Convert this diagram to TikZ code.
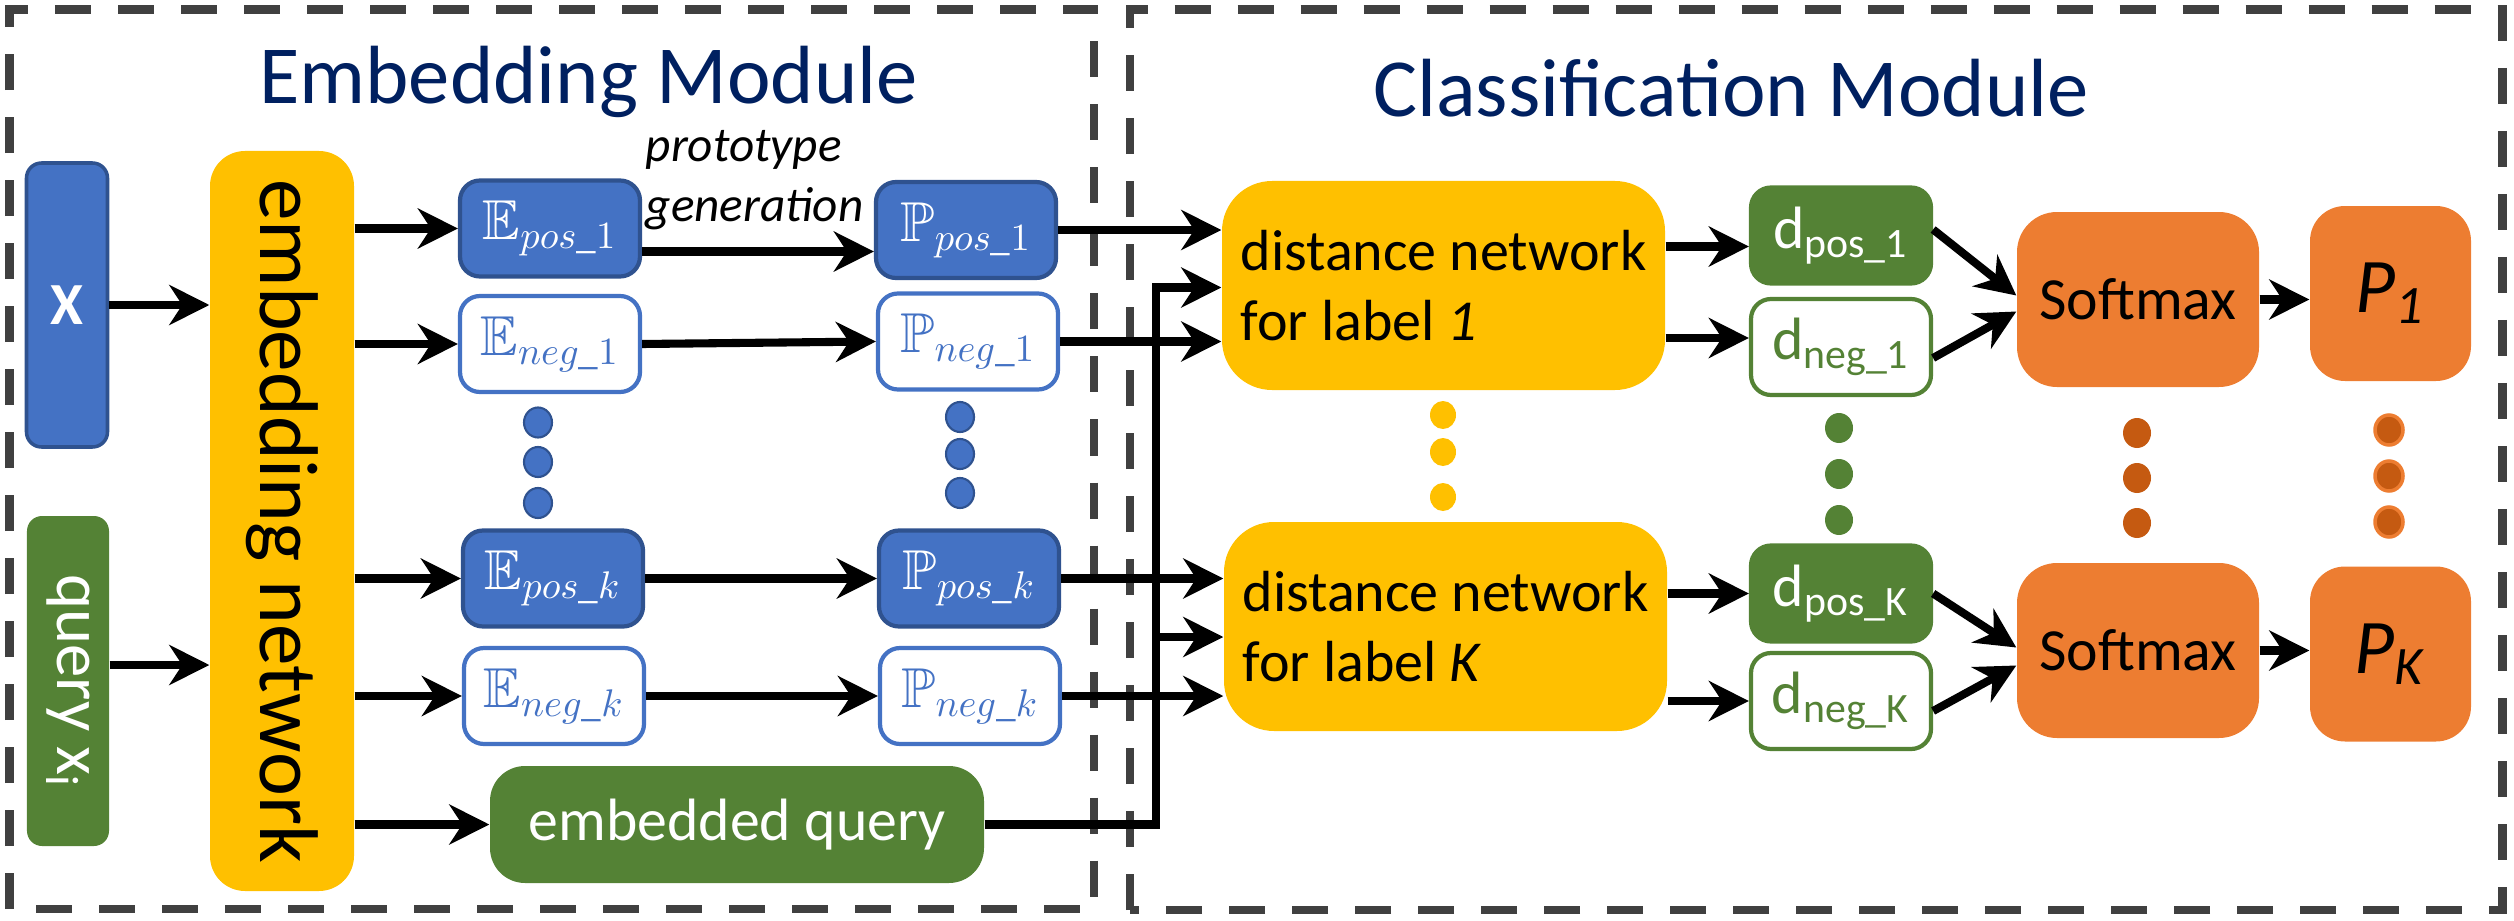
\documentclass[tikz,border=0pt]{standalone}
\usepackage{amsmath, amssymb}
\usepackage[no-math]{fontspec}
\setmainfont{Carlito}
\usepackage{tikz}
\usepackage{xcolor}
\usetikzlibrary{arrows.meta}

\definecolor{blueA}{HTML}{4472C4}
\definecolor{blueB}{HTML}{2F528F}
\definecolor{greenA}{HTML}{548235}
\definecolor{yellowA}{HTML}{FFC000}
\definecolor{orangeA}{HTML}{ED7D31}
\definecolor{orangeB}{HTML}{C55A11}
\definecolor{navy}{HTML}{002060}
\definecolor{framegray}{HTML}{404040}

\begin{document}
\begin{tikzpicture}[
  arr/.style={line width=2.3pt, -{Stealth[length=4mm, width=4mm, inset=1.3mm]}},
  modbox/.style={draw=framegray, line width=2.55pt, dash pattern=on 3.6mm off 2.7mm},
  modtitle/.style={text=navy, font=\fontsize{23.5}{28}\selectfont, anchor=base},
  posbox/.style={fill=blueA, draw=blueB, line width=1.2pt, rounded corners=2mm,
    minimum width=18mm, minimum height=9.6mm, inner sep=0pt, text=white,
    font=\fontsize{16}{19}\selectfont},
  negbox/.style={posbox, fill=white, draw=blueA, text=blueA},
  dposbox/.style={posbox, fill=greenA, draw=greenA, font=\fontsize{17}{20}\selectfont},
  dnegbox/.style={dposbox, fill=white, text=greenA},
  distbox/.style={fill=yellowA, rounded corners=5mm, minimum width=44.3mm,
    minimum height=20.9mm, align=left, inner sep=0pt, font=\fontsize{16.5}{20}\selectfont},
  softbox/.style={fill=orangeA, rounded corners=4mm, minimum width=24.2mm,
    minimum height=17.5mm, font=\fontsize{17}{20}\selectfont},
  probbox/.style={fill=orangeA, rounded corners=3.5mm, minimum width=16.1mm,
    minimum height=17.5mm, font=\fontsize{22}{26}\selectfont},
]
  \useasboundingbox (0,0) rectangle (25.14,9.2);

  % Module frames
  \draw[modbox] (0.095,0.11) rectangle (10.94,9.105);
  \draw[modbox] (11.30,0.10) rectangle (25.02,9.105);
  \node[modtitle] (embtitle) at (5.885,8.17) {Embedding Module};
  \node[modtitle] (clstitle) at (17.31,8.04) {Classification Module};

  % Inputs and embedding network
  \node[fill=blueA, draw=blueB, line width=1pt, rounded corners=1.5mm, minimum width=8.1mm,
    minimum height=28.4mm, text=white, font=\fontsize{17}{20}\selectfont\bfseries]
    (X) at (0.67,6.15) {X};
  \node[fill=greenA, rounded corners=1.5mm, minimum width=8.2mm, minimum height=33mm,
    text=white, font=\fontsize{19}{22}\selectfont]
    (query) at (0.68,2.39) {\rotatebox{-90}{query x\textsubscript{i}}};
  \node[fill=yellowA, rounded corners=3.5mm, minimum width=14.4mm, minimum height=74mm,
    font=\fontsize{23.7}{28}\selectfont]
    (emb) at (2.82,3.99) {\rotatebox{-90}{embedding network}};

  % Embeddings and prototypes
  \node[posbox] (Epos1) at (5.5,6.915) {$\mathbb{E}_{pos\_1}$};
  \node[negbox] (Eneg1) at (5.5,5.76) {$\mathbb{E}_{neg\_1}$};
  \node[posbox] (Eposk) at (5.53,3.415) {$\mathbb{E}_{pos\_k}$};
  \node[negbox] (Enegk) at (5.54,2.24) {$\mathbb{E}_{neg\_k}$};
  \node[posbox] (Ppos1) at (9.66,6.90) {$\mathbb{P}_{pos\_1}$};
  \node[negbox] (Pneg1) at (9.68,5.785) {$\mathbb{P}_{neg\_1}$};
  \node[posbox] (Pposk) at (9.69,3.415) {$\mathbb{P}_{pos\_k}$};
  \node[negbox] (Pnegk) at (9.70,2.24) {$\mathbb{P}_{neg\_k}$};
  \node[align=left, inner sep=0pt, anchor=west, font=\fontsize{14}{17}\selectfont\itshape]
    (protogen) at (6.45,7.40) {prototype\\generation};
  \node[fill=greenA, rounded corners=3.5mm, minimum width=49.4mm, minimum height=11.7mm,
    text=white, font=\fontsize{17}{20}\selectfont] (emq) at (7.37,0.955) {embedded query};
  \foreach \y in {4.975,4.58,4.17}
    \filldraw[fill=blueA, draw=blueB, line width=0.6pt] (5.38,\y) ellipse (1.4mm and 1.5mm);
  \foreach \y in {5.03,4.66,4.27}
    \filldraw[fill=blueA, draw=blueB, line width=0.6pt] (9.60,\y) ellipse (1.4mm and 1.5mm);

  % Classification
  \node[distbox] (dist1) at (14.435,6.345) {distance network\\for label \textit{1}};
  \node[distbox] (distK) at (14.455,2.935) {distance network\\for label \textit{K}};
  \node[dposbox] (dpos1) at (18.41,6.845) {d\textsubscript{pos\_1}};
  \node[dnegbox] (dneg1) at (18.41,5.73) {d\textsubscript{neg\_1}};
  \node[dposbox] (dposK) at (18.41,3.265) {d\textsubscript{pos\_K}};
  \node[dnegbox] (dnegK) at (18.41,2.19) {d\textsubscript{neg\_K}};
  \node[softbox] (sm1) at (21.38,6.205) {Softmax};
  \node[softbox] (smK) at (21.38,2.695) {Softmax};
  \node[probbox] (P1) at (23.905,6.265) {\textit{P}\textsubscript{\textit{1}}};
  \node[probbox] (PK) at (23.905,2.66) {\textit{P}\textsubscript{\textit{K}}};
  \foreach \y in {5.05,4.68,4.23}
    \fill[yellowA] (14.43,\y) ellipse (1.3mm and 1.4mm);
  \foreach \y in {4.92,4.46,4.00}
    \fill[greenA] (18.39,\y) ellipse (1.4mm and 1.5mm);
  \foreach \y in {4.87,4.42,3.97}
    \fill[orangeB] (21.37,\y) ellipse (1.4mm and 1.5mm);
  \foreach \y in {4.90,4.44,3.98}
    \filldraw[fill=orangeB, draw=orangeA, line width=1pt] (23.89,\y) ellipse (1.4mm and 1.5mm);

  % Connectors
  \draw[arr] (X.east) -- (X.east -| emb.west);
  \draw[arr] ([yshift=1.6mm]query.east) -- ([yshift=1.6mm]query.east -| emb.west);
  \foreach \n in {Epos1,Eneg1,Eposk,Enegk,emq}
    \draw[arr] (\n.west -| emb.east) -- (\n.west);
  \draw[arr] ([yshift=-2.3mm]Epos1.east) -- ([yshift=-2.3mm]Epos1.east -| Ppos1.west);
  \draw[arr] (Eneg1.east) -- (Pneg1.west);
  \draw[arr] (Eposk.east) -- (Pposk.west);
  \draw[arr] (Enegk.east) -- (Pnegk.west);
  \draw[arr] (Ppos1.east) -- (Ppos1.east -| dist1.west);
  \draw[arr] (Pneg1.east) -- (Pneg1.east -| dist1.west);
  \draw[arr] (Pposk.east) -- (Pposk.east -| distK.west);
  \draw[arr] (Pnegk.east) -- (Pnegk.east -| distK.west);
  \coordinate (bus1) at (11.56,6.325);
  \coordinate (busK) at (11.56,2.83);
  \draw[arr] (emq.east) -| (bus1) -- (bus1 -| dist1.west);
  \draw[arr] (busK) -- (busK -| distK.west);
  \draw[arr] ([yshift=-1.1mm]dpos1.west -| dist1.east) -- ([yshift=-1.1mm]dpos1.west);
  \draw[arr] ([yshift=0.9mm]dneg1.west -| dist1.east) -- ([yshift=0.9mm]dneg1.west);
  \draw[arr] (dposK.west -| distK.east) -- (dposK.west);
  \draw[arr] (dnegK.west -| distK.east) -- (dnegK.west);
  \draw[arr] ([yshift=0.6mm]dpos1.east) -- ([yshift=0.4mm]sm1.west);
  \draw[arr] ([yshift=-1.1mm]dneg1.east) -- ([yshift=-1.2mm]sm1.west);
  \draw[arr] (dposK.east) -- ([yshift=0.3mm]smK.west);
  \draw[arr] ([yshift=-1mm]dnegK.east) -- ([yshift=-1.5mm]smK.west);
  \draw[arr] (sm1.east) -- (sm1.east -| P1.west);
  \draw[arr] (smK.east) -- (smK.east -| PK.west);
\end{tikzpicture}
\end{document}
